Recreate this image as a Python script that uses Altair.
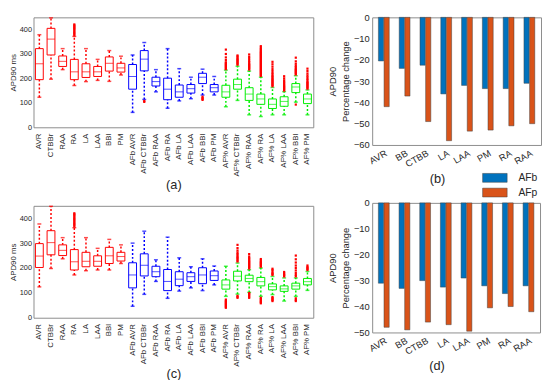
import altair as alt
import pandas as pd

# ---------------- box plot data ----------------
labels = ["AVR", "CTBBr", "RAA", "RA", "LA", "LAA", "BBl", "PM",
          "AFb AVR", "AFb CTBBr", "AFb RAA", "AFb RA", "AFb LA", "AFb LAA", "AFb BBl", "AFb PM",
          "AF% AVR", "AF% CTBBr", "AF% RAA", "AF% RA", "AF% LA", "AF% LAA", "AF% BBl", "AF% PM"]
groups = ["base"] * 8 + ["AFb"] * 8 + ["AFp"] * 8

# panel (a)
a_q1 = [195, 296, 249, 195, 204, 208, 230, 226, 156, 231, 169, 113, 123, 140, 179, 145, 123, 156, 110, 94, 77, 86, 142, 97]
a_med = [260, 361, 270, 227, 227, 227, 262, 243, 208, 279, 187, 156, 145, 158, 205, 162, 145, 175, 136, 116, 94, 106, 165, 116]
a_q3 = [322, 405, 292, 278, 260, 249, 288, 262, 257, 314, 205, 201, 173, 175, 221, 175, 172, 197, 162, 136, 116, 125, 179, 136]
a_lo = [123, 197, 236, 171, 187, 192, 188, 214, 61, 114, 145, 78, 108, 117, 132, 132, 84, 110, 51, 44, 51, 51, 103, 51]
a_hi = [379, 448, 322, 372, 322, 278, 314, 291, 296, 347, 236, 322, 240, 205, 238, 208, 234, 250, 230, 205, 163, 146, 211, 153]
a_outliers = {
    "RA": [376, 381, 386, 391, 396, 401, 405, 409, 413, 417, 421],
    "AFb CTBBr": [104, 108],
    "AFb BBl": [112, 116, 120, 125],
    "AF% AVR": [238, 242, 246, 250, 254, 258, 262, 266, 275, 286, 300, 318],
    "AF% CTBBr": [256, 260, 264, 268, 272, 276, 280, 285, 290, 294],
    "AF% RAA": [236, 240, 244, 248, 252, 256, 260, 266, 272, 280, 288, 298],
    "AF% RA": [210, 214, 218, 222, 226, 230, 234, 238, 242, 246, 250, 254, 258, 262, 266,
               270, 274, 278, 282, 286, 290, 294, 298, 302, 306, 310, 315, 320, 326, 332],
    "AF% LA": [168, 172, 176, 180, 184, 188, 192, 196, 200, 205, 210, 216, 222, 230, 238, 248, 258, 268],
    "AF% LAA": [150, 154, 158, 162, 166, 170, 175, 180, 186, 192, 200, 209],
    "AF% BBl": [93, 216, 220, 224, 228, 232, 236, 240, 246, 252, 260, 270, 285],
    "AF% PM": [158, 162, 166, 170, 174, 178, 182, 186, 192, 198, 205, 212, 220, 230, 240],
}

# panel (c)
c_q1 = [202, 253, 250, 192, 205, 207, 218, 228, 120, 168, 165, 109, 129, 146, 137, 150, 115, 148, 145, 128, 112, 106, 115, 132]
c_med = [248, 302, 271, 225, 227, 227, 249, 246, 172, 211, 185, 146, 155, 165, 172, 169, 132, 167, 158, 145, 125, 116, 128, 145]
c_q3 = [298, 350, 293, 274, 263, 249, 283, 263, 221, 257, 207, 194, 185, 181, 201, 188, 152, 187, 171, 162, 136, 128, 139, 158]
c_lo = [124, 198, 237, 172, 189, 192, 192, 218, 46, 94, 146, 78, 107, 120, 109, 132, 86, 95, 102, 86, 93, 67, 86, 110]
c_hi = [377, 448, 322, 362, 322, 279, 315, 293, 300, 348, 233, 324, 241, 205, 237, 208, 207, 220, 193, 200, 166, 160, 160, 186]
c_outliers = {
    "RA": [367, 372, 377, 382, 387, 392, 397, 402, 407, 412, 416, 420],
    "AF% AVR": [40, 44, 48, 52, 56, 60, 64, 68, 73],
    "AF% CTBBr": [80, 84, 88, 226, 230, 235, 240, 245, 250, 256, 262, 270, 280, 293],
    "AF% RAA": [80, 85, 90, 95, 99, 198, 202, 206, 210, 214, 218, 222, 226, 230, 235, 240, 246, 256],
    "AF% RA": [58, 62, 66, 70, 75, 80, 205, 209, 213, 217, 221, 225, 230, 236],
    "AF% LA": [67, 71, 75, 79, 83, 172, 176, 180, 186, 192, 197],
    "AF% LAA": [166, 170, 174, 178, 184],
    "AF% BBl": [67, 72, 78, 166, 172, 180, 190, 200, 210, 222, 235, 250],
    "AF% PM": [192, 196, 200, 204, 210],
}

# ---------------- bar chart data ----------------
bar_cats = ["AVR", "BB", "CTBB", "LA", "LAA", "PM", "RA", "RAA"]
series = ["AFb", "AFp"]
b_afb = [-20.5, -24, -22.5, -36, -32, -33.5, -33.5, -31]
b_afp = [-42, -37, -49, -58, -53.5, -53, -51, -50]
d_afb = [-31, -33, -30, -32.5, -29, -32, -35, -32]
d_afp = [-48, -49, -46, -47, -49.5, -40.5, -40, -42]

FONT = "Liberation Sans"
TXT = "#262626"
FRAME = "#8c8c8c"


def box_panel(q1, med, q3, lo, hi, outl, caption, w, h, title_pad):
    df = pd.DataFrame({"cat": labels, "grp": groups, "q1": q1, "med": med,
                       "q3": q3, "lo": lo, "hi": hi})
    orows = [{"cat": k, "v": v} for k, vals in outl.items() for v in vals]
    odf = pd.DataFrame(orows)
    xs = alt.X("cat:N", sort=labels,
               scale=alt.Scale(paddingInner=0, paddingOuter=0),
               axis=alt.Axis(labelAngle=-90, title=caption, labelFontSize=8,
                             labelPadding=6, ticks=False, domain=False,
                             titleFontSize=13, titleFontWeight="normal",
                             titlePadding=title_pad, labelColor=TXT, titleColor=TXT))
    ysc = alt.Scale(domain=[0, 450], nice=False)
    yax = alt.Axis(values=[0, 100, 200, 300, 400], title="APD90 ms", grid=False,
                   ticks=False, domain=False, labelFontSize=7.5, labelPadding=2,
                   titleFontSize=8, titleFontWeight="normal", titlePadding=2,
                   labelColor=TXT, titleColor=TXT)
    col = alt.Color("grp:N", legend=None,
                    scale=alt.Scale(domain=["base", "AFb", "AFp"],
                                    range=["#ff0000", "#0000ff", "#00ee00"]))
    base = alt.Chart(df)
    box = base.mark_bar(filled=False, size=8, strokeWidth=1).encode(
        x=xs, y=alt.Y("q3:Q", scale=ysc, axis=yax), y2="q1:Q", color=col)
    medl = base.mark_tick(size=8, thickness=1).encode(
        x=xs, y=alt.Y("med:Q", scale=ysc, axis=yax), color=col)
    wup = base.mark_rule(strokeDash=[2, 2], strokeWidth=1.5).encode(
        x=xs, y=alt.Y("q3:Q", scale=ysc, axis=yax), y2="hi:Q", color=col)
    wlo = base.mark_rule(strokeDash=[2, 2], strokeWidth=1.5).encode(
        x=xs, y=alt.Y("lo:Q", scale=ysc, axis=yax), y2="q1:Q", color=col)
    cap_hi = base.mark_tick(size=4, thickness=1.5).encode(
        x=xs, y=alt.Y("hi:Q", scale=ysc, axis=yax), color=col)
    cap_lo = base.mark_tick(size=4, thickness=1.5).encode(
        x=xs, y=alt.Y("lo:Q", scale=ysc, axis=yax), color=col)
    outp = alt.Chart(odf).mark_square(size=5, color="#ff0000", opacity=1).encode(
        x=xs, y=alt.Y("v:Q", scale=ysc, axis=yax))
    return alt.layer(wup, wlo, cap_hi, cap_lo, box, medl, outp).properties(width=w, height=h)


def bar_panel(afb, afp, caption, ymin, w, h):
    rows = []
    for i, c in enumerate(bar_cats):
        rows.append({"cat": c, "s": "AFb", "v": afb[i]})
        rows.append({"cat": c, "s": "AFp", "v": afp[i]})
    df = pd.DataFrame(rows)
    return alt.Chart(df).mark_bar(stroke="#404040", strokeWidth=0.5).encode(
        x=alt.X("cat:N", sort=bar_cats,
                scale=alt.Scale(paddingInner=0.48, paddingOuter=0.3),
                axis=alt.Axis(labelAngle=-30, title=caption, labelFontSize=9.5,
                              ticks=False, domain=False, labelPadding=3,
                              titleFontSize=13, titleFontWeight="normal",
                              titlePadding=4, titleX=w / 2 - 20,
                              labelColor=TXT, titleColor=TXT)),
        xOffset=alt.XOffset("s:N", sort=series, scale=alt.Scale(paddingInner=0.08)),
        y=alt.Y("v:Q", scale=alt.Scale(domain=[ymin, 0], nice=False),
                axis=alt.Axis(values=list(range(ymin, 1, 10)), grid=False,
                              title=["APD90", "Percentage change"], ticks=False,
                              domain=False, labelFontSize=9.5, labelPadding=3,
                              titleFontSize=9.5, titleFontWeight="normal",
                              titleLineHeight=13, titlePadding=3,
                              labelColor=TXT, titleColor=TXT)),
        color=alt.Color("s:N", sort=series,
                        scale=alt.Scale(domain=series, range=["#0072bd", "#d95319"]),
                        legend=alt.Legend(title=None, orient="none", legendX=119.5, legendY=158,
                                          symbolType="M-2.5,-0.9H2.5V0.9H-2.5Z",
                                          symbolSize=100, symbolStrokeColor="#404040",
                                          symbolStrokeWidth=0.5, labelFontSize=10.5,
                                          labelColor=TXT, rowPadding=4, labelOffset=18.5)),
    ).properties(width=w, height=h)


pa = box_panel(a_q1, a_med, a_q3, a_lo, a_hi, a_outliers, "(a)", 285, 112, 3)
pc = box_panel(c_q1, c_med, c_q3, c_lo, c_hi, c_outliers, "(c)", 285, 114, 1)
pb = bar_panel(b_afb, b_afp, "(b)", -60, 172, 130)
pd_ = bar_panel(d_afb, d_afp, "(d)", -50, 171, 132)

left = alt.vconcat(pa, pc, spacing=12)
right = alt.vconcat(pb, pd_, spacing=11)

chart = alt.hconcat(left, right, spacing=13).resolve_scale(color="independent").properties(
    padding=0
).configure(font=FONT).configure_view(stroke=FRAME, strokeWidth=1)

chart.save("out.html", embed_options={"renderer": "svg", "actions": False})
